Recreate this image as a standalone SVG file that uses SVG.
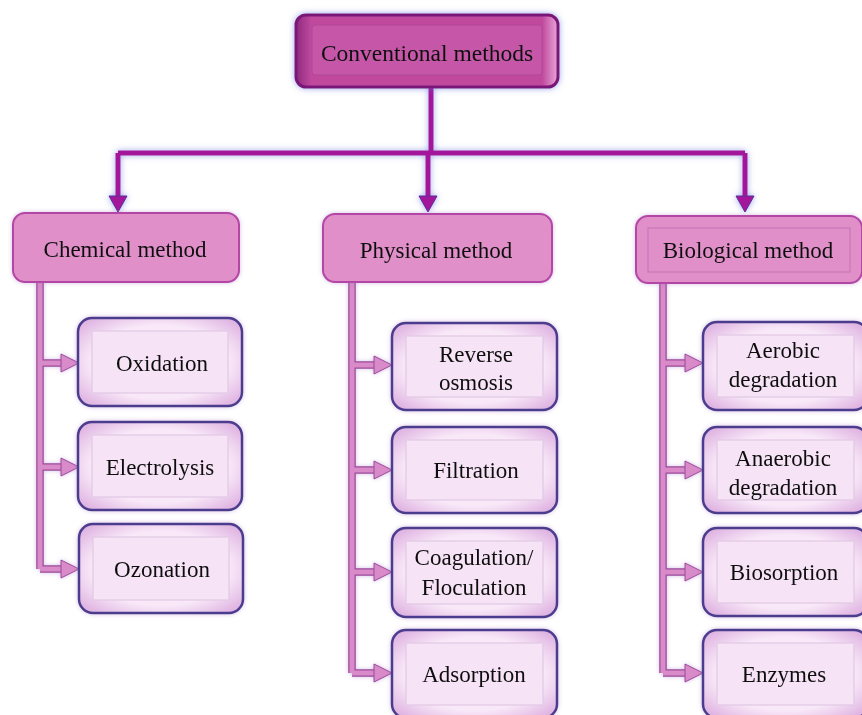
<svg xmlns="http://www.w3.org/2000/svg" width="862" height="715" viewBox="0 0 862 715">
<defs>
<style>
text{font-family:"Liberation Serif","Times New Roman",serif;font-size:23px;fill:#111;text-anchor:middle}
.big{font-size:23.5px}
.top{fill:url(#gTop);stroke:#7a1878;stroke-width:3}
.topIn{fill:#c656a8;stroke:#b04896;stroke-width:1}
.lv2{fill:#e08fc9;stroke:#b447a6;stroke-width:2}
.lv2in{fill:none;stroke:#c977b8;stroke-width:1.2}
.child{fill:url(#gChild);stroke:#4b3d8e;stroke-width:2.5}
.childIn{fill:#f6e3f6;stroke:#e2c9e4;stroke-width:1.2}
.main{fill:none;stroke:#a3189c;stroke-width:5}
.sub{fill:none;stroke:#d98ac8;stroke-width:5}
.subEdge{fill:none;stroke:#9c4a9c;stroke-width:7.5}
.subHead{fill:#d98ac8;stroke:#9c4a9c;stroke-width:1}
.mainHead{fill:#a3189c;stroke:#5a2a9a;stroke-width:1}
</style>
<linearGradient id="gTop" x1="0" y1="0" x2="1" y2="0">
<stop offset="0" stop-color="#8e2a80"/><stop offset="0.06" stop-color="#c04a9e"/><stop offset="0.94" stop-color="#c04a9e"/><stop offset="1" stop-color="#e9a6d8"/>
</linearGradient>
<radialGradient id="gChild" cx="0.5" cy="0.5" r="0.7">
<stop offset="0.6" stop-color="#f8e8f8"/><stop offset="1" stop-color="#d9a6dc"/>
</radialGradient>
<filter id="glow" x="-10%" y="-20%" width="120%" height="140%">
<feGaussianBlur in="SourceAlpha" stdDeviation="3" result="b"/>
<feFlood flood-color="#5a6ad8" flood-opacity="0.6"/>
<feComposite in2="b" operator="in" result="g"/>
<feMerge><feMergeNode in="g"/><feMergeNode in="SourceGraphic"/></feMerge>
</filter>
<filter id="soft" x="-10%" y="-20%" width="120%" height="140%">
<feGaussianBlur in="SourceAlpha" stdDeviation="2" result="b"/>
<feFlood flood-color="#a070c0" flood-opacity="0.45"/>
<feComposite in2="b" operator="in" result="g"/>
<feMerge><feMergeNode in="g"/><feMergeNode in="SourceGraphic"/></feMerge>
</filter>
</defs>

<g id="connectors">
<g filter="url(#glow)">
<path class="main" d="M431 87 V153 M118 153 H745 M118 153 V198 M428 153 V198 M745 153 V198"/>
<polygon class="mainHead" points="109,196 127,196 118,212"/>
<polygon class="mainHead" points="419,196 437,196 428,212"/>
<polygon class="mainHead" points="736,196 754,196 745,212"/>
</g>
<g filter="url(#soft)">
<path class="subEdge" d="M40 282 V569 M40 363 H64 M40 467 H64 M40 569 H64"/>
<path class="sub" d="M40 282 V569 M40 363 H64 M40 467 H64 M40 569 H64"/>
<polygon class="subHead" points="61,354 79,363 61,372"/>
<polygon class="subHead" points="61,458 79,467 61,476"/>
<polygon class="subHead" points="61,560 79,569 61,578"/>
<path class="subEdge" d="M352 282 V673 M352 365 H376 M352 470 H376 M352 572 H376 M352 673 H376"/>
<path class="sub" d="M352 282 V673 M352 365 H376 M352 470 H376 M352 572 H376 M352 673 H376"/>
<polygon class="subHead" points="374,356 392,365 374,374"/>
<polygon class="subHead" points="374,461 392,470 374,479"/>
<polygon class="subHead" points="374,563 392,572 374,581"/>
<polygon class="subHead" points="374,664 392,673 374,682"/>
<path class="subEdge" d="M663 283 V673 M663 363 H687 M663 470 H687 M663 572 H687 M663 673 H687"/>
<path class="sub" d="M663 283 V673 M663 363 H687 M663 470 H687 M663 572 H687 M663 673 H687"/>
<polygon class="subHead" points="685,354 703,363 685,372"/>
<polygon class="subHead" points="685,461 703,470 685,479"/>
<polygon class="subHead" points="685,563 703,572 685,581"/>
<polygon class="subHead" points="685,664 703,673 685,682"/>
</g>
</g>

<g id="conventional" filter="url(#glow)">
<rect class="top" x="296" y="15" width="262" height="72" rx="10"/>
<rect class="topIn" x="312" y="25" width="230" height="50" rx="3"/>
<text class="big" x="427" y="61">Conventional methods</text>
</g>

<g id="chemical" filter="url(#soft)">
<rect class="lv2" x="13" y="213" width="226" height="69" rx="12"/>
<text x="125" y="257">Chemical method</text>
</g>
<g id="physical" filter="url(#soft)">
<rect class="lv2" x="323" y="214" width="229" height="68" rx="12"/>
<text x="436" y="258">Physical method</text>
</g>
<g id="biological" filter="url(#soft)">
<rect class="lv2" x="636" y="216" width="226" height="67" rx="12"/>
<rect class="lv2in" x="648" y="228" width="202" height="44"/>
<text x="748" y="258">Biological method</text>
</g>

<g id="oxidation" filter="url(#soft)">
<rect class="child" x="78" y="318" width="164" height="88" rx="14"/>
<rect class="childIn" x="92" y="331" width="136" height="62"/>
<text x="162" y="371">Oxidation</text>
</g>
<g id="electrolysis" filter="url(#soft)">
<rect class="child" x="78" y="422" width="164" height="88" rx="14"/>
<rect class="childIn" x="92" y="435" width="136" height="62"/>
<text x="160" y="475">Electrolysis</text>
</g>
<g id="ozonation" filter="url(#soft)">
<rect class="child" x="79" y="524" width="164" height="89" rx="14"/>
<rect class="childIn" x="93" y="537" width="136" height="63"/>
<text x="162" y="577">Ozonation</text>
</g>

<g id="reverse-osmosis" filter="url(#soft)">
<rect class="child" x="392" y="323" width="165" height="87" rx="14"/>
<rect class="childIn" x="406" y="336" width="137" height="61"/>
<text x="476" y="362">Reverse</text>
<text x="476" y="390">osmosis</text>
</g>
<g id="filtration" filter="url(#soft)">
<rect class="child" x="392" y="427" width="165" height="86" rx="14"/>
<rect class="childIn" x="406" y="440" width="137" height="60"/>
<text x="476" y="478">Filtration</text>
</g>
<g id="coagulation" filter="url(#soft)">
<rect class="child" x="392" y="528" width="165" height="89" rx="14"/>
<rect class="childIn" x="406" y="541" width="137" height="63"/>
<text x="474" y="565">Coagulation/</text>
<text x="474" y="595">Floculation</text>
</g>
<g id="adsorption" filter="url(#soft)">
<rect class="child" x="392" y="630" width="165" height="88" rx="14"/>
<rect class="childIn" x="406" y="643" width="137" height="62"/>
<text x="474" y="682">Adsorption</text>
</g>

<g id="aerobic" filter="url(#soft)">
<rect class="child" x="703" y="322" width="165" height="88" rx="14"/>
<rect class="childIn" x="717" y="335" width="137" height="62"/>
<text x="783" y="358">Aerobic</text>
<text x="783" y="387">degradation</text>
</g>
<g id="anaerobic" filter="url(#soft)">
<rect class="child" x="703" y="427" width="165" height="86" rx="14"/>
<rect class="childIn" x="717" y="440" width="137" height="60"/>
<text x="783" y="466">Anaerobic</text>
<text x="783" y="495">degradation</text>
</g>
<g id="biosorption" filter="url(#soft)">
<rect class="child" x="703" y="528" width="165" height="88" rx="14"/>
<rect class="childIn" x="717" y="541" width="137" height="62"/>
<text x="784" y="580">Biosorption</text>
</g>
<g id="enzymes" filter="url(#soft)">
<rect class="child" x="703" y="630" width="165" height="88" rx="14"/>
<rect class="childIn" x="717" y="643" width="137" height="62"/>
<text x="784" y="682">Enzymes</text>
</g>
</svg>
